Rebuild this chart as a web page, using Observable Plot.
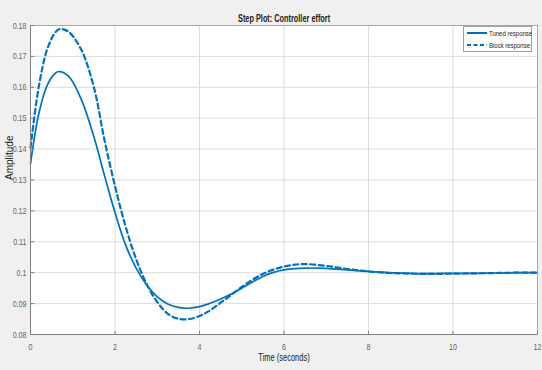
<!DOCTYPE html>
<html>
<head>
<meta charset="utf-8">
<script src="https://cdn.jsdelivr.net/npm/d3@7"></script>
<script src="https://cdn.jsdelivr.net/npm/@observablehq/plot@0.6"></script>
<style>
  body { margin: 0; background: #f0f0f0; }
  #wrap { position: relative; width: 542px; height: 370px; font-family: "Liberation Sans", Arial, sans-serif; }
  #legend { position: absolute; left: 463px; top: 26px; width: 69px; height: 26px; background: #fff; border: 1px solid #a0a0a0; box-sizing: border-box; font-size: 7.5px; color: #222; }
  #legend .row { position: absolute; left: 3px; height: 10px; display: flex; align-items: center; white-space: nowrap; }
  #legend svg { margin-right: 2px; flex: none; }
  #legend span { display: inline-block; transform: scaleX(0.8); transform-origin: left center; }
</style>
</head>
<body>
<div id="wrap"><div id="chart"></div>
<div id="legend"></div></div>
<script>
const chartTitle = "Step Plot: Controller effort";
const xLabel = "Time (seconds)";
const yLabel = "Amplitude";
const seriesNames = ["Tuned response", "Block response"];

const time = [0, 0.2, 0.4, 0.6, 0.7, 0.9, 1.2, 1.5, 1.75, 2, 2.25, 2.5, 2.75, 3, 3.25, 3.5, 3.75, 4, 4.25, 4.5, 4.75, 5, 5.25, 5.5, 5.75, 6, 6.25, 6.5, 7, 7.5, 8, 8.5, 9, 9.5, 10, 10.5, 11, 11.5, 12];
const tuned = [0.1353, 0.1517, 0.1608, 0.1647, 0.1651, 0.1636, 0.1562, 0.1440, 0.1315, 0.1195, 0.1090, 0.1015, 0.0960, 0.0922, 0.0899, 0.0888, 0.0885, 0.0890, 0.0901, 0.0915, 0.0931, 0.0950, 0.0970, 0.0988, 0.1001, 0.1009, 0.1013, 0.1015, 0.1014, 0.1009, 0.1004, 0.1000, 0.0998, 0.0997, 0.0998, 0.0998, 0.0999, 0.1000, 0.1000];
const block = [0.1405, 0.1605, 0.1725, 0.1780, 0.1789, 0.1780, 0.1722, 0.1600, 0.1430, 0.1280, 0.1150, 0.1044, 0.0963, 0.0905, 0.0867, 0.0851, 0.0850, 0.0860, 0.0878, 0.0903, 0.0928, 0.0954, 0.0977, 0.0996, 0.1010, 0.1020, 0.1026, 0.1028, 0.1022, 0.1012, 0.1004, 0.0999, 0.0997, 0.0996, 0.0997, 0.0998, 0.0999, 0.1000, 0.1000];

const xTicks = [0, 2, 4, 6, 8, 10, 12];
const yTicks = [0.08, 0.09, 0.1, 0.11, 0.12, 0.13, 0.14, 0.15, 0.16, 0.17, 0.18];
const yTickLabels = ["0.08", "0.09", "0.1", "0.11", "0.12", "0.13", "0.14", "0.15", "0.16", "0.17", "0.18"];

const color = "#0072BD";
const tunedData = time.map((t, i) => ({t, v: tuned[i]}));
const blockData = time.map((t, i) => ({t, v: block[i]}));
const font = "Liberation Sans, Arial, sans-serif";

const plot = Plot.plot({
  width: 542,
  height: 370,
  marginLeft: 30,
  marginRight: 5,
  marginTop: 25,
  marginBottom: 36,
  style: {background: "#f0f0f0", fontFamily: font},
  x: {domain: [0, 12]},
  y: {domain: [0.08, 0.18]},
  marks: [
    Plot.frame({fill: "white", stroke: null}),
    Plot.gridX(xTicks, {stroke: "#dcdcdc", strokeOpacity: 1}),
    Plot.gridY(yTicks, {stroke: "#dcdcdc", strokeOpacity: 1}),
    Plot.line(tunedData, {x: "t", y: "v", stroke: color, strokeWidth: 1.7, curve: "catmull-rom"}),
    Plot.line(blockData, {x: "t", y: "v", stroke: color, strokeWidth: 2.2, strokeDasharray: "5,3.5", curve: "catmull-rom"}),
    Plot.frame({stroke: "#a8a8a8"}),
    Plot.ruleY([0.08], {stroke: "#808080"}),
    Plot.ruleX([0], {stroke: "#808080"}),
    Plot.ruleX(xTicks, {y1: 0.08, y2: 0.081, stroke: "#808080"}),
    Plot.ruleY(yTicks, {x1: 0, x2: 0.1, stroke: "#808080"}),
    Plot.axisX(xTicks, {tickSize: 0, tickPadding: 9, fontSize: 9.5, fill: "#666", label: null}),
    Plot.axisY(yTicks, {tickSize: 0, tickPadding: 4, fontSize: 9.5, fill: "#666", label: null, tickFormat: (d) => yTickLabels[yTicks.indexOf(d)]}),
    Plot.text([chartTitle], {frameAnchor: "top", dy: -11, fontSize: 10.5, fontWeight: "bold", fill: "#222"}),
    Plot.text([xLabel], {frameAnchor: "bottom", dy: 26, fontSize: 10, fill: "#222"}),
    Plot.text([yLabel], {frameAnchor: "left", dx: -21, rotate: -90, fontSize: 10, fill: "#222"})
  ]
});
document.getElementById("chart").append(plot);

// condense the horizontal texts, as in the reference
d3.select(plot).selectAll("text").each(function () {
  const el = this;
  if (el.textContent === yLabel) return;
  const b = el.getBBox();
  const cs = getComputedStyle(el);
  const anchor = el.getAttribute("text-anchor") || cs.textAnchor || "middle";
  const ax = anchor === "start" ? b.x : anchor === "end" ? b.x + b.width : b.x + b.width / 2;
  const s = el.textContent === chartTitle ? 0.7 : 0.75;
  const prev = el.getAttribute("transform") || "";
  el.setAttribute("transform", `${prev} translate(${ax},0) scale(${s},1) translate(${-ax},0)`);
});

const legend = document.getElementById("legend");
seriesNames.forEach((name, i) => {
  const row = document.createElement("div");
  row.className = "row";
  row.style.top = (1 + i * 12) + "px";
  const dash = i === 0 ? "" : 'stroke-dasharray="4,2.5"';
  row.innerHTML = `<svg width="20" height="6"><line x1="0" y1="3" x2="20" y2="3" stroke="${color}" stroke-width="2" ${dash}/></svg><span>${name}</span>`;
  legend.append(row);
});
</script>
</body>
</html>
